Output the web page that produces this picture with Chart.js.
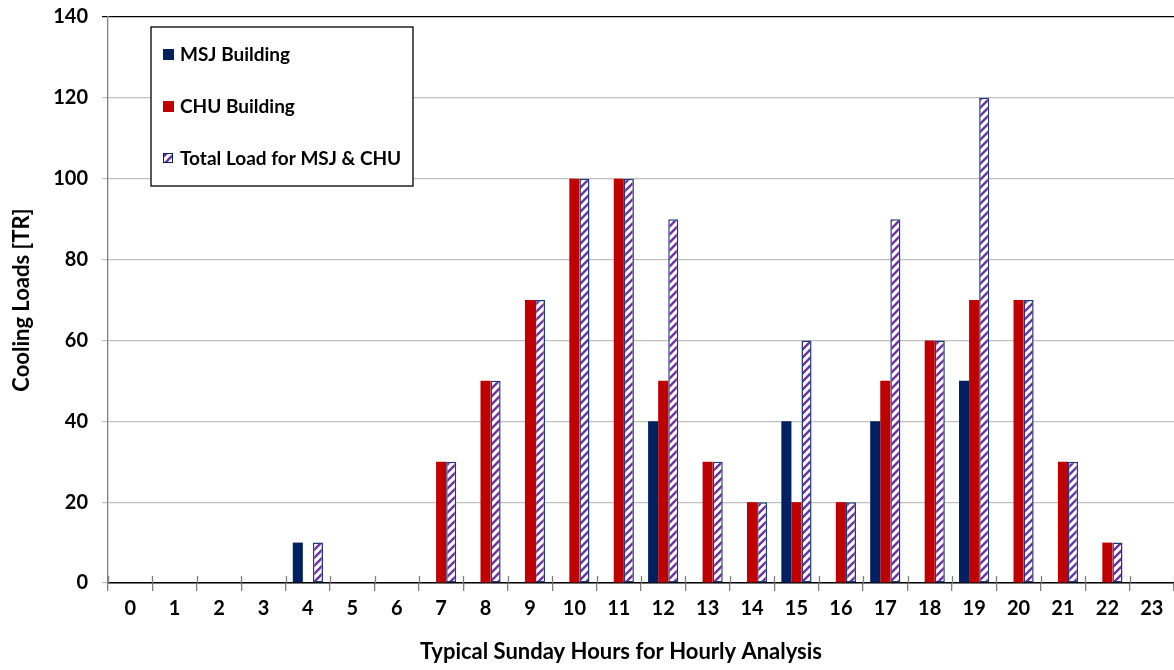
<!DOCTYPE html>
<html lang="en">
<head>
<meta charset="utf-8">
<title>Cooling loads</title>
<script src="https://cdn.jsdelivr.net/npm/chart.js@4"></script>
<style>
  html, body { margin:0; padding:0; background:#fff; }
  #wrap { width:1174px; height:670px; }
</style>
</head>
<body>
<div id="wrap"><canvas id="chart" width="1174" height="670"></canvas></div>
<script>
// hours 0..23
const hours = ['0','1','2','3','4','5','6','7','8','9','10','11','12','13','14','15','16','17','18','19','20','21','22','23'];
const msjLoad   = [0,0,0,0,10,0,0,0,0,0,0,0,40,0,0,40,0,40,0,50,0,0,0,0];
const chuLoad   = [0,0,0,0,0,0,0,30,50,70,100,100,50,30,20,20,20,50,60,70,70,30,10,0];
const totalLoad = [0,0,0,0,10,0,0,30,50,70,100,100,90,30,20,60,20,90,60,120,70,30,10,0];
const xTitle = 'Typical Sunday Hours for Hourly Analysis';

const FONT = 'Lato, "Open Sans", sans-serif';

// hatch pattern for the total bars
function makeHatch() {
  const c = document.createElement('canvas');
  c.width = 8; c.height = 8;
  const g = c.getContext('2d');
  g.fillStyle = '#fff';
  g.fillRect(0, 0, 8, 8);
  g.strokeStyle = '#7030A0';
  g.lineWidth = 2.4;
  g.beginPath();
  g.moveTo(-1, 9); g.lineTo(9, -1);
  g.moveTo(-5, 5); g.lineTo(5, -5);
  g.moveTo(3, 13); g.lineTo(13, 3);
  g.stroke();
  return document.getElementById('chart').getContext('2d').createPattern(c, 'repeat');
}
const hatch = makeHatch();

const noZero = arr => arr.map(v => v === 0 ? null : v);

// small tick marks above the x axis (they cross the line in the original) + x title
const crossTicks = {
  id: 'crossTicks',
  afterDraw(chart) {
    const ctx = chart.ctx, xs = chart.scales.x, b = chart.chartArea.bottom;
    ctx.save();
    ctx.strokeStyle = '#808080';
    ctx.lineWidth = 1.3;
    ctx.beginPath();
    for (let i = 0; i <= hours.length; i++) {
      const px = Math.round(xs.getPixelForValue(i - 0.5)) + 0.5;
      ctx.moveTo(px, b - 7); ctx.lineTo(px, b);
    }
    ctx.stroke();
    // axis title, excel puts it a bit left of the plot centre
    ctx.fillStyle = '#000';
    ctx.font = 'bold 22px ' + FONT;
    ctx.textAlign = 'center';
    ctx.textBaseline = 'middle';
    ctx.fillText(xTitle, 621, 652);
    ctx.restore();
  }
};

// legend box drawn by hand (excel style)
const boxLegend = {
  id: 'boxLegend',
  afterDraw(chart) {
    const ctx = chart.ctx;
    const x = 151, y = 27, w = 262, h = 159;
    ctx.save();
    ctx.fillStyle = '#fff';
    ctx.fillRect(x, y, w, h);
    ctx.strokeStyle = '#000';
    ctx.lineWidth = 1.3;
    ctx.strokeRect(x, y, w, h);
    ctx.font = 'bold 19px ' + FONT;
    ctx.textBaseline = 'middle';
    const rows = [54, 106, 158];
    chart.data.datasets.forEach((ds, i) => {
      const ry = rows[i];
      if (i === 2) {
        ctx.fillStyle = hatch;
        ctx.fillRect(163, ry - 5, 10, 10);
        ctx.strokeStyle = '#002060';
        ctx.lineWidth = 1;
        ctx.strokeRect(163.5, ry - 4.5, 9, 9);
      } else {
        ctx.fillStyle = ds.backgroundColor;
        ctx.fillRect(163, ry - 5, 11, 11);
      }
      ctx.fillStyle = '#000';
      ctx.fillText(ds.label, 180, ry + 1);
    });
    ctx.restore();
  }
};

new Chart(document.getElementById('chart'), {
  type: 'bar',
  data: {
    labels: hours,
    datasets: [
      { label: 'MSJ Building', data: noZero(msjLoad), backgroundColor: '#002060', borderWidth: 0 },
      { label: 'CHU Building', data: noZero(chuLoad), backgroundColor: '#C00000', borderWidth: 0 },
      { label: 'Total Load for MSJ & CHU', data: noZero(totalLoad), backgroundColor: hatch,
        borderColor: '#1F3A7A', borderWidth: 1.5, borderSkipped: false }
    ]
  },
  options: {
    responsive: false,
    animation: false,
    layout: { padding: { top: 17, right: 0, left: 0, bottom: 0 } },
    datasets: { bar: { categoryPercentage: 0.68, barPercentage: 1.0 } },
    plugins: { legend: { display: false }, tooltip: { enabled: false } },
    scales: {
      x: {
        afterFit(s) { s.height = 87; },
        grid: { offset: true, drawOnChartArea: false, color: '#808080', tickLength: 8, lineWidth: 1.3 },
        border: { color: '#000', width: 1.5 },
        ticks: { color: '#000', padding: 6, font: { family: FONT, size: 20, weight: 'bold' } }
      },
      y: {
        min: 0, max: 140,
        afterFit(s) { s.width = 108; s.paddingTop = 0; s.paddingBottom = 0; },
        grid: {
          color: ctx => ctx.tick && ctx.tick.value === 140 ? '#000' : '#BFBFBF',
          lineWidth: 1.2, tickLength: 6
        },
        border: { color: '#808080', width: 1.3 },
        ticks: { stepSize: 20, color: '#000', padding: 14, font: { family: FONT, size: 20, weight: 'bold' } },
        title: { display: true, text: 'Cooling Loads [TR]', color: '#000',
                 padding: { top: 9, bottom: 0 }, font: { family: FONT, size: 22, weight: 'bold' } }
      }
    }
  },
  plugins: [crossTicks, boxLegend]
});
</script>
</body>
</html>
